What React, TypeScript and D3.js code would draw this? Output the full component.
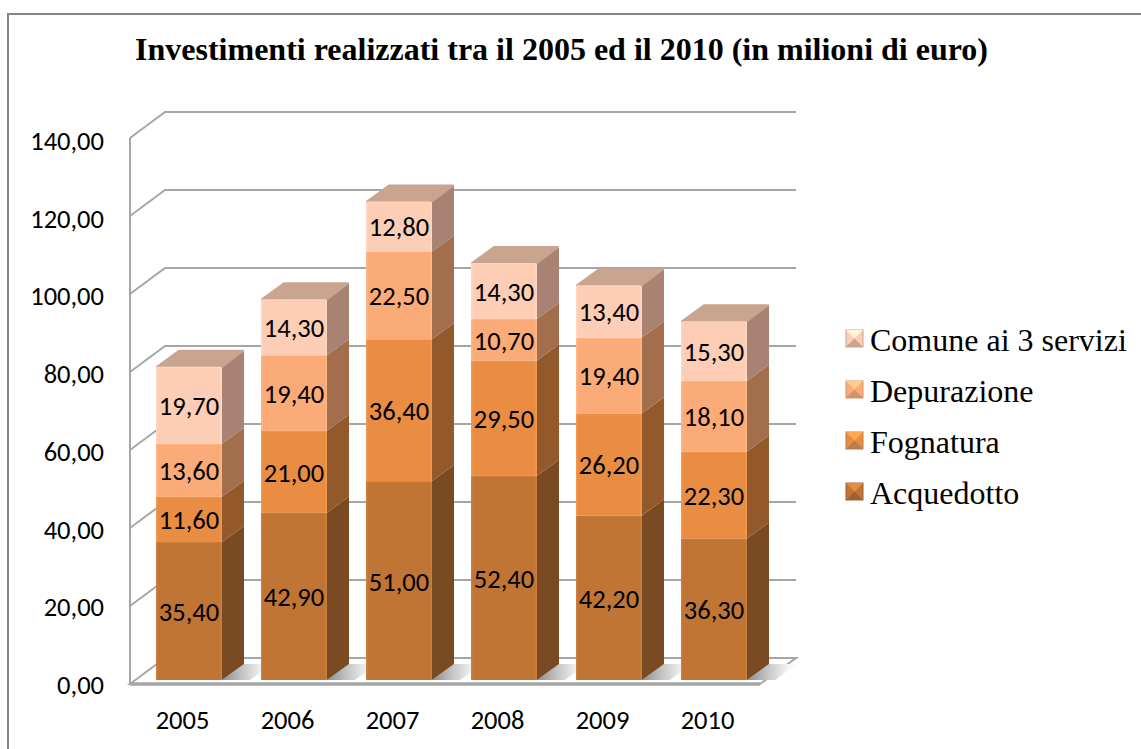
import React from "react";
import * as d3 from "d3";

const years = ["2005", "2006", "2007", "2008", "2009", "2010"];
const seriesNames = ["Acquedotto", "Fognatura", "Depurazione", "Comune ai 3 servizi"];
const acquedotto = [35.4, 42.9, 51.0, 52.4, 42.2, 36.3];
const fognatura = [11.6, 21.0, 36.4, 29.5, 26.2, 22.3];
const depurazione = [13.6, 19.4, 22.5, 10.7, 19.4, 18.1];
const comune = [19.7, 14.3, 12.8, 14.3, 13.4, 15.3];
const yTicks = [0, 20, 40, 60, 80, 100, 120, 140];
const frontColors = ["#C07535", "#E98D43", "#FBAB77", "#FDCDB5"];
const edgeColors = ["#CB7F3E", "#EF9950", "#FDB685", "#FED6C2"];
const sideColors = ["#7A4A22", "#93592A", "#A26E4C", "#A88273"];
const topColors = ["#9A6236", "#BC7C48", "#D0926A", "#C9A48E"];

const fmt = (v: number) => v.toFixed(2).replace(".", ",");
const sans = "Carlito, Lato, 'Open Sans', sans-serif";
const serif = "'Liberation Serif', serif";

export default function App() {
  const data = [acquedotto, fognatura, depurazione, comune];
  const x = d3.scaleBand<string>().domain(years).range([130, 760]);
  const y = d3.scaleLinear().domain([0, 140]).range([684, 138]);
  const dx = 35, dy = -26;
  const barW = 66, bx = 22, by = -16, barShift = -4, frontOff = 6.5;
  const stacked = d3.stack<number>().keys([0, 1, 2, 3]).value((i, k) => data[k as number][i])(years.map((_, i) => i));
  const grid = "#A6A6A6";
  const line = d3.line();
  return (
    <svg width={1141} height={749} style={{ position: "absolute", left: 0, top: 0, background: "#fff" }}>
      <defs>
        <linearGradient id="shadow" x1="0" y1="0" x2="1" y2="0">
          <stop offset="0" stopColor="#8d8d8d" />
          <stop offset="0.4" stopColor="#c4c4c4" />
          <stop offset="0.8" stopColor="#f2f2f2" />
          <stop offset="1" stopColor="#fff" />
        </linearGradient>
      </defs>
      <path d="M8,749V14H1141" fill="none" stroke="#868686" strokeWidth={2} />
      <text x={561.5} y={60} textAnchor="middle" fontFamily={serif} fontWeight="bold" fontSize={32}>
        Investimenti realizzati tra il 2005 ed il 2010 (in milioni di euro)
      </text>
      {yTicks.map((t) => (
        <g key={t}>
          {t > 0 && (
            <path
              d={line([[130, y(t)], [130 + dx, y(t) + dy], [796, y(t) + dy]]) || ""}
              fill="none" stroke={grid} strokeWidth={2}
            />
          )}
          <text x={104} y={y(t) + 10 + t / 70} textAnchor="end" fontFamily={sans} fontSize={26.5}>{fmt(t)}</text>
        </g>
      ))}
      <path d={`M130,${y(140)}V${y(0)}`} stroke={grid} strokeWidth={2} fill="none" />
      <path
        d={line([[130, y(0)], [130 + dx, y(0) + dy], [796, y(0) + dy], [760, y(0)]])! + "Z"}
        fill="#fff" stroke={grid} strokeWidth={2}
      />
      <path d={`M130,${y(0)}H760`} stroke={grid} strokeWidth={3.5} fill="none" />
      {years.map((yr) => {
        const right = x(yr)! + x.bandwidth() / 2 + frontOff + barW / 2;
        const b = y(0) + barShift;
        return (
          <path key={yr} d={`M${right},${b}L${right + bx},${b + by}H${right + bx + 28}L${right + 28},${b}Z`} fill="url(#shadow)" />
        );
      })}
      {years.map((yr, i) => {
        const fx = x(yr)! + x.bandwidth() / 2 + frontOff - barW / 2;
        return (
          <g key={yr}>
            {stacked.map((s, k) => {
              const y0 = y(s[i][0]) + barShift;
              const y1 = y(s[i][1]) + barShift;
              const last = k === stacked.length - 1;
              return (
                <g key={k}>
                  <path
                    d={`M${fx + barW},${y0}L${fx + barW + bx},${y0 + by}V${y1 + by}L${fx + barW},${y1}Z`}
                    fill={sideColors[k]}
                  />
                  {last && (
                    <path
                      d={`M${fx + 1},${y1}L${fx + bx + 1},${y1 + by}H${fx + barW + bx - 1}L${fx + barW},${y1}Z`}
                      fill={topColors[k]} stroke={topColors[k]} strokeLinejoin="round" strokeWidth={2}
                    />
                  )}
                  <rect x={fx} y={y1} width={barW} height={y0 - y1} fill={edgeColors[k]} rx={last ? 2 : 0} />
                  <rect x={fx + 1.5} y={y1 + 1} width={barW - 3} height={y0 - y1 - 1} fill={frontColors[k]} />
                  <text x={fx + barW / 2} y={(y0 + y1) / 2 + 10} textAnchor="middle" fontFamily={sans} fontSize={26.5}>
                    {fmt(data[k][i])}
                  </text>
                </g>
              );
            })}
          </g>
        );
      })}
      {years.map((yr) => (
        <text key={yr} x={x(yr)! + x.bandwidth() / 2} y={729} textAnchor="middle" fontFamily={sans} fontSize={26.5}>{yr}</text>
      ))}
      {[3, 2, 1, 0].map((k, idx) => {
        const ly = 330 + idx * 51;
        const s = 17;
        const c = ly + s / 2, cx = 846 + s / 2;
        return (
          <g key={k}>
            <rect x={846} y={ly} width={s} height={s} fill={frontColors[k]} stroke={topColors[k]} strokeWidth={1} />
            <path d={`M846,${ly}H863L${cx},${c}Z`} fill={d3.color(frontColors[k])!.brighter(0.5).formatHex()} />
            <path d={`M846,${ly + s}H863L${cx},${c}Z`} fill={topColors[k]} />
            <text x={870} y={ly + 21} fontFamily={serif} fontSize={32}>{seriesNames[k]}</text>
          </g>
        );
      })}
    </svg>
  );
}
